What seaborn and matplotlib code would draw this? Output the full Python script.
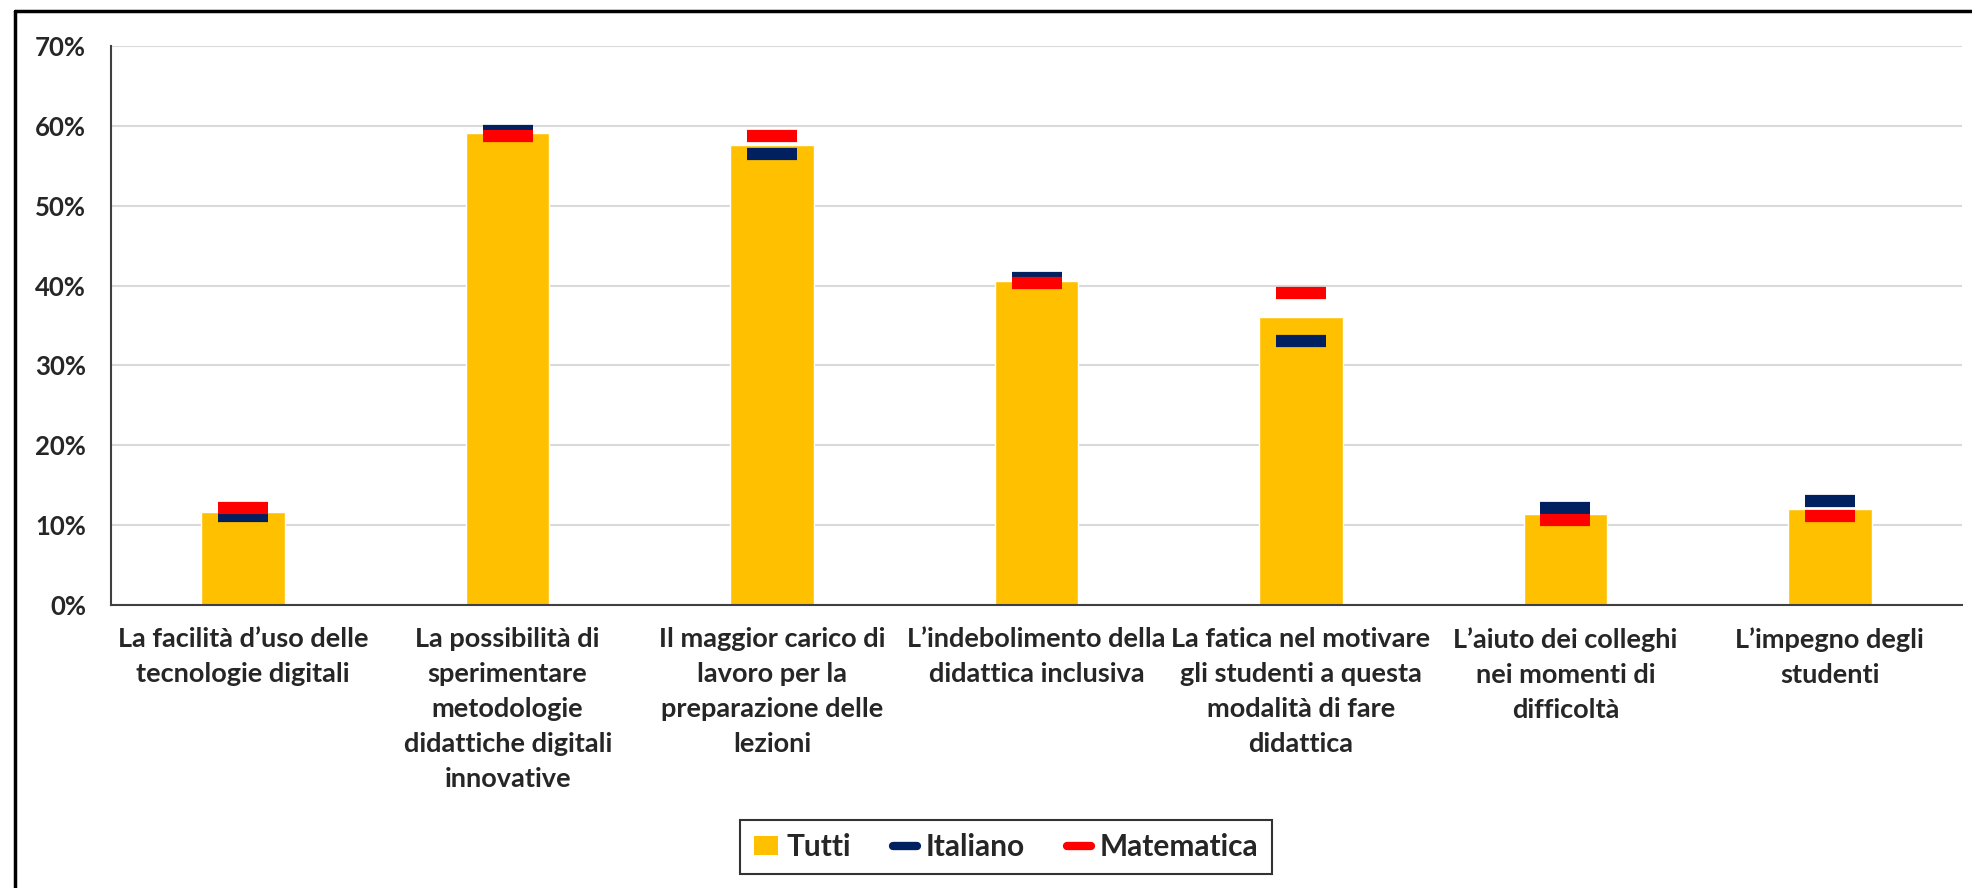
import matplotlib
matplotlib.use("Agg")
import matplotlib.pyplot as plt
import seaborn as sns
import pandas as pd
from matplotlib.lines import Line2D
from matplotlib.patches import Patch
from matplotlib.ticker import FuncFormatter, MultipleLocator

categories = [
    "La facilità d’uso delle\ntecnologie digitali",
    "La possibilità di\nsperimentare\nmetodologie\ndidattiche digitali\ninnovative",
    "Il maggior carico di\nlavoro per la\npreparazione delle\nlezioni",
    "L’indebolimento della\ndidattica inclusiva",
    "La fatica nel motivare\ngli studenti a questa\nmodalità di fare\ndidattica",
    "L’aiuto dei colleghi\nnei momenti di\ndifficoltà",
    "L’impegno degli\nstudenti",
]
tutti = [0.116, 0.591, 0.576, 0.406, 0.361, 0.114, 0.120]
italiano = [0.111, 0.593, 0.565, 0.410, 0.330, 0.122, 0.130]
matematica = [0.122, 0.587, 0.587, 0.403, 0.391, 0.107, 0.111]
series_names = ["Tutti", "Italiano", "Matematica"]

YELLOW = "#FFC000"
NAVY = "#002060"
RED = "#FF0000"

sns.set_theme(style="white")
plt.rcParams["font.family"] = ["Lato", "DejaVu Sans"]
plt.rcParams["font.weight"] = "bold"

df = pd.DataFrame({"cat": categories, "Tutti": tutti,
                   "Italiano": italiano, "Matematica": matematica})

fig = plt.figure(figsize=(19.72, 8.88), dpi=100)
ax = fig.add_axes([111 / 1972, 1 - 605 / 888, (1962 - 111) / 1972, (605 - 46) / 888])

sns.barplot(data=df, x="cat", y="Tutti", color=YELLOW, width=0.316,
            saturation=1, ax=ax, zorder=2)
sns.pointplot(data=df, x="cat", y="Italiano", color=NAVY, linestyle="none",
              marker="_", markersize=36, markeredgewidth=8.8, ax=ax, zorder=3)
sns.pointplot(data=df, x="cat", y="Matematica", color=RED, linestyle="none",
              marker="_", markersize=36, markeredgewidth=8.8, ax=ax, zorder=4)

ax.set_xlim(-0.5, 6.5)
ax.set_ylim(0, 0.7)
ax.yaxis.set_major_locator(MultipleLocator(0.1))
ax.yaxis.set_major_formatter(FuncFormatter(lambda v, p: f"{v*100:.0f}%"))
ax.grid(axis="y", color="#D9D9D9", linewidth=1.5, zorder=0)
ax.set_axisbelow(True)
ax.set_xlabel("")
ax.set_ylabel("")
for s in ["top", "right"]:
    ax.spines[s].set_visible(False)
for s in ["left", "bottom"]:
    ax.spines[s].set_color("#404040")
    ax.spines[s].set_linewidth(1.5)
ax.tick_params(axis="x", length=0, pad=16, labelsize=19.5)
ax.tick_params(axis="y", length=0, pad=18, labelsize=18.5)
for lbl in ax.get_xticklabels():
    lbl.set_fontweight("bold")
    lbl.set_linespacing(1.55)
for lbl in ax.get_yticklabels():
    lbl.set_fontweight("bold")

handles = [
    Patch(facecolor=YELLOW, edgecolor="none"),
    Line2D([], [], color=NAVY, lw=6, solid_capstyle="round"),
    Line2D([], [], color=RED, lw=6, solid_capstyle="round"),
]
leg = fig.legend(handles, series_names, loc="center", ncol=3,
                 bbox_to_anchor=(1006 / 1972, 1 - 847 / 888),
                 frameon=True, fancybox=False, edgecolor="black",
                 handlelength=0.8, handleheight=0.65, handletextpad=0.3,
                 columnspacing=1.4, borderpad=0.45,
                 prop={"family": ["Lato", "DejaVu Sans"], "weight": "bold", "size": 21.5})
leg.get_frame().set_linewidth(1.5)

# outer frame (left and top edges)
fig.add_artist(Line2D([15 / 1972, 15 / 1972], [0, 1 - 11 / 888],
                      transform=fig.transFigure, color="black", lw=2.5))
fig.add_artist(Line2D([15 / 1972, 1], [1 - 11 / 888, 1 - 11 / 888],
                      transform=fig.transFigure, color="black", lw=2.5))

fig.savefig("out.png", dpi=100)
